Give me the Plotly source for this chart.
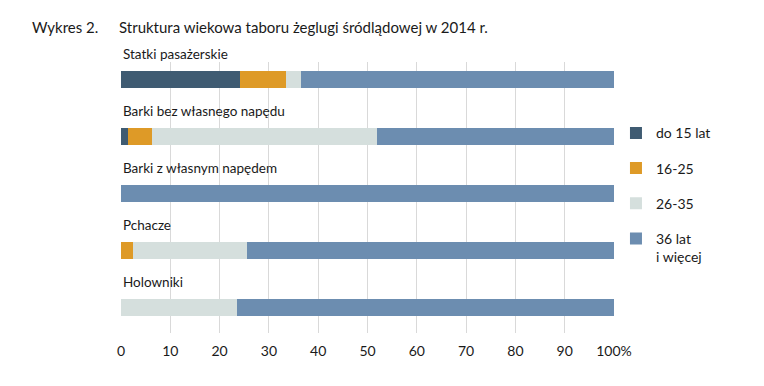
import plotly.graph_objects as go

categories = ["Statki pasażerskie", "Barki bez własnego napędu", "Barki z własnym napędem", "Pchacze", "Holowniki"]
series_names = ["do 15 lat", "16-25", "26-35", "36 lat<br>i więcej"]
do15 = [24.1, 1.4, 0.0, 0.0, 0.0]
s16_25 = [9.3, 4.9, 0.0, 2.5, 0.0]
s26_35 = [3.2, 45.6, 0.0, 23.0, 23.5]
s36plus = [63.4, 48.1, 100.0, 74.5, 76.5]
tick_vals = [0, 10, 20, 30, 40, 50, 60, 70, 80, 90, 100]
tick_text = ["0", "10", "20", "30", "40", "50", "60", "70", "80", "90", "100%"]

colors = ["#3f5b72", "#de9a27", "#d5dfdd", "#6c8db0"]
values = [do15, s16_25, s26_35, s36plus]

FONT = "Lato"
TXT = "#1a1a1a"
Y_TOP, Y_BOT = -0.3, 4.454


def ypaper(v):
    return 1 - (v - Y_TOP) / (Y_BOT - Y_TOP)


fig = go.Figure()
for i, (name, vals) in enumerate(zip(series_names, values)):
    fig.add_trace(go.Bar(
        x=vals, y=categories, orientation="h", name=name,
        marker=dict(color=colors[i], line=dict(width=0)),
        width=0.3, legendgroup=f"g{i}", hoverinfo="x+name",
    ))

shapes = []
annotations = []
for idx, cat in enumerate(categories):
    shapes.append(dict(type="rect", xref="paper", yref="y", x0=-0.01, x1=1.01,
                       y0=idx - 0.67, y1=idx - 0.27, fillcolor="white",
                       line=dict(width=0), layer="between"))
    annotations.append(dict(x=0, y=ypaper(idx - 0.44), xref="x", yref="paper", text=cat,
                            showarrow=False, xanchor="left", yanchor="middle",
                            font=dict(family=FONT, size=13.5, color=TXT)))

annotations.append(dict(x=-0.185, y=1.129, xref="paper", yref="paper", text="Wykres 2.",
                        showarrow=False, xanchor="left", yanchor="middle",
                        font=dict(family=FONT, size=15, color=TXT)))
annotations.append(dict(x=-0.008, y=1.129, xref="paper", yref="paper",
                        text="Struktura wiekowa taboru żeglugi śródlądowej w 2014 r.",
                        showarrow=False, xanchor="left", yanchor="middle",
                        font=dict(family=FONT, size=15, color=TXT)))

fig.update_layout(
    barmode="stack",
    width=764, height=386,
    margin=dict(l=121, r=150, t=62, b=53),
    paper_bgcolor="white", plot_bgcolor="white",
    showlegend=True,
    legend=dict(x=1.004, y=0.796, xanchor="left", yanchor="top",
                traceorder="grouped", tracegroupgap=14, valign="top",
                font=dict(family=FONT, size=14, color=TXT),
                bgcolor="rgba(0,0,0,0)"),
    xaxis=dict(range=[0, 100], tickvals=tick_vals, ticktext=tick_text,
               showgrid=True, gridcolor="#d9d9d9", gridwidth=1,
               zeroline=False, showline=False, ticks="",
               ticklabelstandoff=8,
               tickfont=dict(family=FONT, size=14, color=TXT), fixedrange=True),
    yaxis=dict(type="category", categoryorder="array", categoryarray=categories,
               range=[Y_BOT, Y_TOP], showticklabels=False, showgrid=False,
               zeroline=False, showline=False, ticks="", fixedrange=True),
    shapes=shapes,
    annotations=annotations,
)

fig.write_html("out.html", config={"displayModeBar": False},
               post_script="document.body.style.margin='0';")
